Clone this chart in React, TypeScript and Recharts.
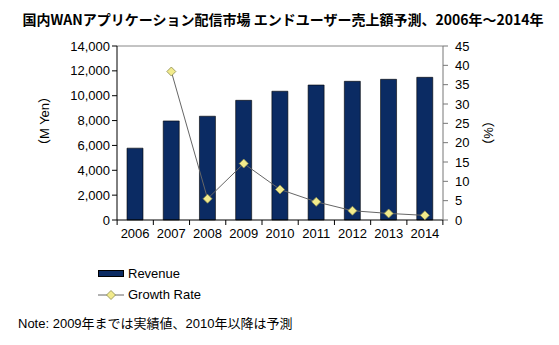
import React from 'react';
import { ComposedChart, Bar, Line, XAxis, YAxis, Legend, ReferenceLine } from 'recharts';

const years: string[] = ['2006', '2007', '2008', '2009', '2010', '2011', '2012', '2013', '2014'];
const revenue: number[] = [5780, 7970, 8350, 9630, 10360, 10860, 11160, 11320, 11480];
const growthRate: (number | null)[] = [null, 38.4, 5.5, 14.6, 7.9, 4.7, 2.4, 1.7, 1.2];
const revenueTicks: number[] = [0, 2000, 4000, 6000, 8000, 10000, 12000, 14000];
const rateTicks: number[] = [0, 5, 10, 15, 20, 25, 30, 35, 40, 45];

const chartData = years.map((year, i) => ({ year, revenue: revenue[i], growth: growthRate[i] }));

const FONT = '"Liberation Sans", Arial, "Noto Sans CJK JP", sans-serif';
const BAR = '#0b2b63';

const Diamond = (props: any) => {
    const { cx, cy, index } = props;
    if (cx == null || cy == null || growthRate[index] == null) return <g key={`d-${index}`} />;
    const r = 4.5;
    return (
        <polygon
            key={`d-${index}`}
            points={`${cx},${cy - r} ${cx + r},${cy} ${cx},${cy + r} ${cx - r},${cy}`}
            fill="#f2eb8c"
            stroke="#8a8a50"
            strokeWidth={0.8}
        />
    );
};

const YearTick = (props: any) => {
    const { x, y, payload, index } = props;
    const half = 18;
    return (
        <g>
            <line x1={x - half} y1={220} x2={x - half} y2={225} stroke="#000" />
            {index === years.length - 1 && <line x1={x + half} y1={220} x2={x + half} y2={225} stroke="#000" />}
            <text x={x} y={y + 10} textAnchor="middle" fontSize={13} fill="#000" fontFamily={FONT}>
                {payload.value}
            </text>
        </g>
    );
};

const LegendBox = () => (
    <div style={{ fontFamily: FONT, fontSize: 13, color: '#000' }}>
        <div style={{ display: 'flex', alignItems: 'center', height: 21 }}>
            <span style={{ display: 'inline-block', width: 26, height: 7, background: BAR, border: '1px solid #000', boxSizing: 'border-box', marginRight: 4 }} />
            Revenue
        </div>
        <div style={{ display: 'flex', alignItems: 'center', height: 21 }}>
            <svg width={26} height={10} style={{ marginRight: 4 }}>
                <line x1={0} y1={5} x2={26} y2={5} stroke="#666" />
                <polygon points="13,0.5 17.5,5 13,9.5 8.5,5" fill="#f2eb8c" stroke="#8a8a50" strokeWidth={0.8} />
            </svg>
            Growth Rate
        </div>
    </div>
);

export default function App() {
    return (
        <div style={{ position: 'absolute', left: 0, top: 0, width: 559, height: 345, background: '#fff' }}>
            <div
                style={{
                    position: 'absolute', left: 0, top: 9, width: 566, textAlign: 'center',
                    fontFamily: '"Noto Sans CJK JP", sans-serif', fontWeight: 700, fontSize: 14, color: '#000', whiteSpace: 'nowrap',
                }}
            >
                国内WANアプリケーション配信市場 エンドユーザー売上額予測、2006年～2014年
            </div>
            <ComposedChart
                width={559}
                height={345}
                data={chartData}
                margin={{ top: 46, right: 0, left: 0, bottom: 95 }}
                barCategoryGap={10}
            >
                <XAxis dataKey="year" height={30} tickLine={false} axisLine={{ stroke: '#000' }} tick={<YearTick />} interval={0} />
                <YAxis
                    yAxisId="left"
                    width={117}
                    domain={[0, 14000]}
                    ticks={revenueTicks}
                    interval={0}
                    tickFormatter={(v: number) => v.toLocaleString('en-US')}
                    tick={{ fontSize: 13, fill: '#000', fontFamily: FONT }}
                    tickLine={{ stroke: '#000' }}
                    axisLine={{ stroke: '#000' }}
                    tickSize={5}
                    tickMargin={2}
                    label={{
                        content: (p: any) => {
                            const vb = p.viewBox;
                            const cx = vb.x + 44;
                            const cy = vb.y + vb.height / 2 - 12;
                            return (
                                <text x={cx} y={cy} transform={`rotate(-90 ${cx} ${cy})`} textAnchor="middle" dominantBaseline="central" fontSize={13} fill="#000" fontFamily={FONT}>
                                    （M Yen）
                                </text>
                            );
                        },
                    }}
                />
                <YAxis
                    yAxisId="right"
                    orientation="right"
                    width={116}
                    domain={[0, 45]}
                    ticks={rateTicks}
                    interval={0}
                    tick={{ fontSize: 13, fill: '#000', fontFamily: FONT }}
                    tickLine={{ stroke: '#777' }}
                    axisLine={{ stroke: '#777' }}
                    tickSize={5}
                    tickMargin={7}
                    label={{
                        content: (p: any) => {
                            const vb = p.viewBox;
                            const cx = vb.x + 45;
                            const cy = vb.y + vb.height / 2 + 0;
                            return (
                                <text x={cx} y={cy} transform={`rotate(-90 ${cx} ${cy})`} textAnchor="middle" dominantBaseline="central" fontSize={13} fill="#000" fontFamily={FONT}>
                                    （%）
                                </text>
                            );
                        },
                    }}
                />
                <ReferenceLine yAxisId="left" y={14000} stroke="#888" />
                <Bar yAxisId="left" dataKey="revenue" name="Revenue" fill={BAR} stroke="#000" strokeWidth={0.6} barSize={16} isAnimationActive={false} />
                <Line
                    yAxisId="right"
                    dataKey="growth"
                    name="Growth Rate"
                    stroke="#666"
                    strokeWidth={1}
                    dot={<Diamond />}
                    activeDot={false}
                    connectNulls={false}
                    isAnimationActive={false}
                />
                <Legend
                    layout="vertical"
                    align="center"
                    verticalAlign="middle"
                    content={<LegendBox />}
                    wrapperStyle={{ position: 'absolute', left: 98, top: 263, width: 150, height: 42 }}
                />
            </ComposedChart>
            <div
                style={{
                    position: 'absolute', left: 18, top: 313, fontFamily: FONT, fontSize: 13, color: '#000', whiteSpace: 'nowrap',
                }}
            >
                Note: 2009年までは実績値、2010年以降は予測
            </div>
        </div>
    );
}
